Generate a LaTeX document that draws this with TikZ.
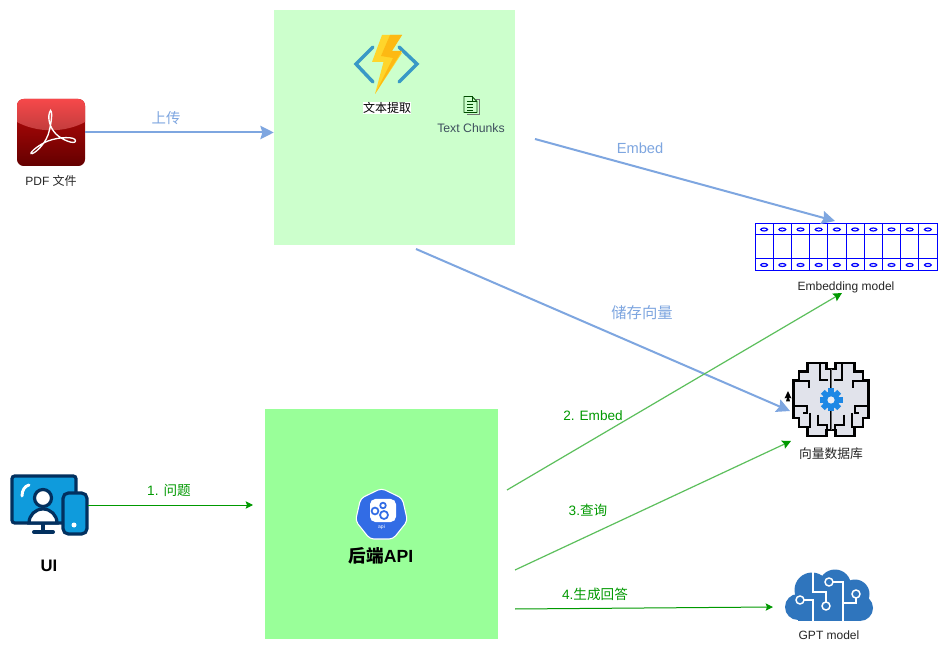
\documentclass[tikz,border=0pt]{standalone}
\usepackage{fontspec}
\setmainfont{Liberation Sans}
\newfontfamily\cjk{Noto Sans CJK SC}
\usepackage{tikz}
\usetikzlibrary{arrows.meta, positioning, calc, shapes.geometric}
\definecolor{colUpload}{HTML}{7EA6E0}
\definecolor{colQuery}{HTML}{009900}
\definecolor{colSlant}{HTML}{5CBF5C}
\definecolor{colNavy}{HTML}{02305F}
\definecolor{colScreen}{HTML}{0F9BDC}
\definecolor{colCloud}{HTML}{2F75BD}
\definecolor{colBrain}{HTML}{E1E3EB}
\definecolor{colGear}{HTML}{1E88E5}
\definecolor{colKube}{HTML}{326CE5}
\definecolor{colChevron}{HTML}{3999C6}
\definecolor{colBoltLight}{HTML}{FFD52B}
\definecolor{colBoltDark}{HTML}{FDB913}

\begin{document}
\begin{tikzpicture}[
		x=0.75pt, y=-0.75pt,
		>=Stealth,
		blueflow/.style={-{Stealth[length=10pt, width=10pt, inset=1.5pt]}, line width=1.5pt, colUpload},
		greenflow/.style={-{Stealth[length=5.5pt, width=5.5pt, inset=1pt]}, line width=0.75pt, colQuery},
		slantflow/.style={-{Stealth[length=6.5pt, width=6.5pt, inset=1pt, colQuery]}, line width=0.9pt, colSlant},
		bluelabel/.style={font=\fontsize{11}{13}\selectfont, text=colUpload},
		bluecjk/.style={font=\fontsize{11.5}{13}\selectfont\cjk, text=colUpload},
		greenlabel/.style={font=\fontsize{10.2}{12}\selectfont, text=colQuery},
		iconlabel/.style={font=\fontsize{9}{11}\selectfont, text=black!85},
		titlelabel/.style={font=\fontsize{13.2}{15}\selectfont\bfseries, text=black}
	]
	\useasboundingbox (0,0) rectangle (947,652);
	\fill[white] (0,0) rectangle (947,652);

	% the two large boxes
	\node[fill=green!20, minimum width=180.75pt, minimum height=176.25pt, inner sep=0pt]
		(extract) at (394.5, 127.5) {};
	\node[fill={rgb,255:red,153;green,255;blue,153}, minimum width=174.75pt, minimum height=172.5pt, inner sep=0pt]
		(backend) at (381.5, 524) {};

	% pdf file
	\node[rounded corners=5pt, minimum width=51pt, minimum height=50.25pt, inner sep=0pt,
		top color={rgb,255:red,190;green,10;blue,10}, bottom color={rgb,255:red,100;green,0;blue,0}]
		(pdf) at (51, 132.5) {};
	\begin{scope}
		\clip[rounded corners=5pt] (17,99) rectangle (85,166);
		\shade[top color={rgb,255:red,246;green,72;blue,74}, bottom color={rgb,255:red,190;green,60;blue,60}]
			(17,99) -- (85,99) -- (85,122) .. controls (65,133) and (37,133) .. (17,122) -- cycle;
	\end{scope}
	\draw[white, line width=1pt]
		(50.5,110.5) .. controls (47,116) and (49,127) .. (56,134)
		.. controls (62,140) and (75,145) .. (75.5,141)
		.. controls (76,136) and (58,137) .. (48,141)
		.. controls (40,144) and (30,152) .. (31,153.5)
		.. controls (33,155) and (44,146) .. (48,135)
		.. controls (51,126) and (53,112) .. (50.5,110.5) -- cycle;
	\node[iconlabel, below=3pt of pdf] (pdfLabel) {PDF {\cjk 文件}};

	% function icon
	\draw[colChevron, line width=2.6pt, line cap=round, line join=miter] (373,47) -- (356,64) -- (373,82);
	\draw[colChevron, line width=2.6pt, line cap=round, line join=miter] (399,47) -- (417,64) -- (399,82);
	\fill[colBoltLight] (382,35) -- (402,35) -- (390,53) -- (402,53) -- (375,94) -- (383.5,62) -- (372,62) -- cycle;
	\fill[colBoltDark] (390,35) -- (402,35) -- (392,51) -- (402,51) -- (375,94) -- (393,58) -- (381,56) -- cycle;
	\node[fill=white, inner sep=0pt, font=\fontsize{9}{10}\selectfont\cjk, text=black] (extractLabel) at (387, 108) {文本提取};

	% chunks icon
	\draw[black!55, line width=0.7pt] (476,99) -- (479,99) -- (479,114.5) -- (467,114.5);
	\draw[black!70!green, line width=0.7pt, line join=round]
		(464,96.5) -- (472,96.5) -- (477,101.5) -- (477,112.5) -- (464,112.5) -- cycle;
	\draw[black!70!green, line width=0.5pt] (472,96.5) -- (472,101.5) -- (477,101.5);
	\foreach \rowy in {101,104,107,110}
		\draw[black!70!green, line width=0.4pt] (467,\rowy) -- (473,\rowy);
	\node[font=\fontsize{9.2}{11}\selectfont, text={rgb,255:red,62;green,79;blue,94}] (chunksLabel) at (471, 128) {Text Chunks};

	% embedding model
	\node[draw=blue, line width=0.75pt, minimum width=136.5pt, minimum height=35.25pt, inner sep=0pt]
		(embedding) at (846, 247.5) {};
	\draw[blue, line width=0.75pt] (755,235) -- (937,235) (755,259) -- (937,259);
	\foreach \col in {1,...,9}
		\draw[blue, line width=0.75pt] ({755+\col*18.2},224) -- ({755+\col*18.2},271);
	\foreach \col in {0,...,9} {
		\draw[blue, line width=0.9pt] ({764.1+\col*18.2},229.5) ellipse (3.4 and 1.5);
		\draw[blue, line width=0.9pt] ({764.1+\col*18.2},265) ellipse (3.4 and 1.5);
	}
	\node[iconlabel, below=4pt of embedding] (embeddingLabel) {Embedding model};

	% vector store
	\foreach \side in {-1,1} {
		\begin{scope}[shift={(831,0)}, xscale=\side]
			\draw[fill=colBrain, line width=1.9pt, line join=miter]
				(0,369) -- (-4.3,369) -- (-4.3,363) -- (-23.3,363) -- (-23.3,371.3) -- (-32,371.3) -- (-32,380.7)
				-- (-37.7,380.7) -- (-37.7,418) -- (-32,418) -- (-32,427) -- (-23.3,427) -- (-23.3,436)
				-- (-4.3,436) -- (-4.3,430) -- (0,430) -- cycle;
			\draw[line width=1.7pt]
				(-11,363) -- (-11,368.7) -- (-11,379.7) -- (-2.7,379.7)
				(-32,380.7) -- (-22,380.7) -- (-22,388)
				(-37.7,406) -- (-24.3,406) -- (-24.3,413) -- (-28,413)
				(-12.7,414.7) -- (-12.7,424.7) -- (-4.3,424.7) -- (-4.3,430)
				(-21,413) -- (-21,427) -- (-23.3,427);
		\end{scope}
	}
	\draw[line width=0.6pt, black!60] (831,369) -- (831,430);
	\foreach \tooth in {0,45,...,315}
		\fill[colGear, rotate around={\tooth:(831,400)}] (828.2,388.5) rectangle (833.8,394);
	\fill[colGear] (831,400) circle (8.5);
	\fill[colBrain!60!white] (831,400) circle (3.6);
	\fill[black] (784.5,398.5) -- (788,391) -- (791.5,398.5) -- (789,397.5) -- (790,401.5) -- (786,401.5) -- (787,397.5) -- cycle;
	\node[font=\fontsize{9.6}{11}\selectfont\cjk, text=black!85] (storeLabel) at (831, 454) {向量数据库};

	% gpt model
	\begin{scope}
		\fill[colCloud] (798,607) circle (13) (812,590) circle (17.5) (835,585.5) circle (16)
			(855,594) circle (14.5) (860,608) circle (13);
		\fill[colCloud] (798,598) rectangle (860,621);
		\draw[white, line width=1.1pt]
			(813,572) -- (813,592) -- (826,592) -- (826,602)
			(804,600) -- (813,600) -- (813,621)
			(833,582) -- (843,582) -- (843,621)
			(856,598) -- (856,603) -- (843,603);
		\draw[white, line width=1.1pt] (800,600) circle (4) (826,606) circle (4)
			(829,582) circle (4) (856,594) circle (4);
	\end{scope}
	\node[iconlabel] (gptLabel) at (829, 635) {GPT model};

	% ui icon
	\draw[colNavy, fill=colScreen, line width=2.4pt, rounded corners=2pt] (12,476) rectangle (76,523);
	\draw[colNavy, line width=2.4pt] (43,524) -- (43,531);
	\draw[colNavy, line width=3pt, line cap=round] (34,532) -- (53,532);
	\draw[white, line width=2.2pt, line cap=round] (22,496) .. controls (22,490) and (25,486) .. (29,485);
	\draw[colNavy, fill=white, line width=2.4pt] (29,523) arc[start angle=180, end angle=360, radius=14] -- cycle;
	\draw[colNavy, fill=white, line width=2.4pt] (43,498) circle (8.5);
	\draw[colNavy, fill=colScreen, line width=2.4pt, rounded corners=4pt] (63,493) rectangle (87,534);
	\fill[white] (74,525) circle (2.5);
	\coordinate (uiPort) at (88, 505);
	\node[titlelabel, font=\fontsize{12.5}{15}\selectfont\bfseries] (uiLabel) at (49, 566) {UI};

	% api icon
	\node[regular polygon, regular polygon sides=7, draw=white, line width=0.8pt, fill=colKube,
		rounded corners=3pt, minimum size=40pt, inner sep=0pt] (api) at (381.5, 515) {};
	\fill[white, rounded corners=4pt] (370,499) rectangle (396,522);
	\foreach \gx/\gy/\gr in {375/511/3.4, 383/505.5/2.8, 384/515/4}
		\draw[colKube, line width=1.3pt] (\gx,\gy) circle (\gr);
	\node[font=\fontsize{3.8}{4}\selectfont, text=white] (apiTag) at (381.5, 527) {api};
	\node[titlelabel] (backendLabel) at (381, 556) {{\cjk\bfseries 后端}API};

	% free ends of the flows
	\coordinate (embedFrom) at (535, 139);
	\coordinate (embedTo) at (835, 221);
	\coordinate (saveFrom) at (416, 249);
	\coordinate (saveTo) at (790, 411);
	\coordinate (askTo) at (253, 505);
	\coordinate (vecFrom) at (507, 490);
	\coordinate (vecTo) at (842, 293);
	\coordinate (findFrom) at (515, 570);
	\coordinate (findTo) at (791, 441);
	\coordinate (replyFrom) at (515, 609);
	\coordinate (replyTo) at (773, 607);

	\draw[blueflow] (pdf.east) -- (pdf.east -| extract.west);
	\node[bluecjk, font=\fontsize{10.8}{13}\selectfont\cjk] (uploadLabel) at (166, 118) {上传};
	\draw[blueflow] (embedFrom) -- (embedTo);
	\node[bluelabel] (embedLabel) at (640, 148) {Embed};
	\draw[blueflow] (saveFrom) -- (saveTo);
	\node[bluecjk] (saveLabel) at (642, 313) {储存向量};

	\draw[greenflow] (uiPort) -- (askTo);
	\node[greenlabel] (askLabel) at (169, 490) {1. {\cjk 问题}};
	\draw[slantflow] (vecFrom) -- (vecTo);
	\node[greenlabel] (vecLabel) at (593, 416) {2. Embed};
	\draw[slantflow] (findFrom) -- (findTo);
	\node[greenlabel] (findLabel) at (588, 510) {3.{\cjk 查询}};
	\draw[greenflow] (replyFrom) -- (replyTo);
	\node[greenlabel] (replyLabel) at (595, 594) {4.{\cjk 生成回答}};
\end{tikzpicture}
\end{document}
